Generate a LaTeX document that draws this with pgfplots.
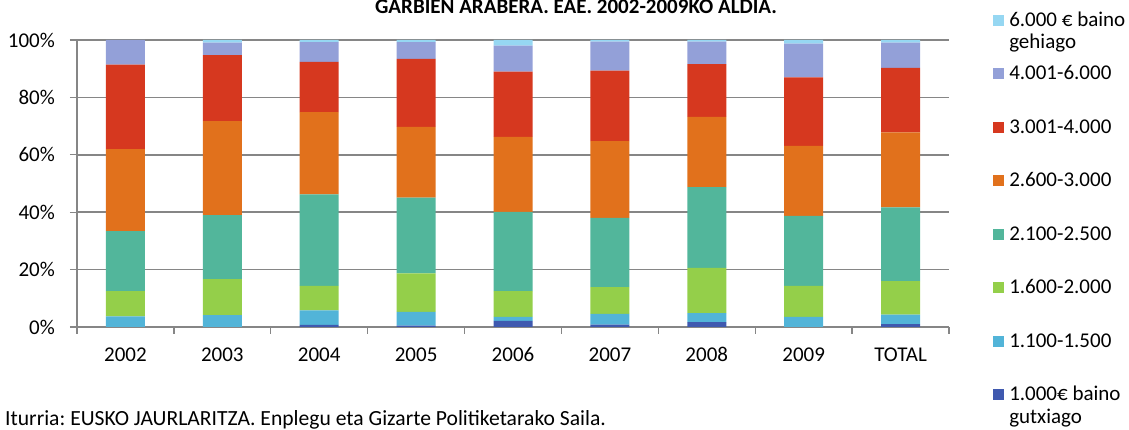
\documentclass[border=0pt]{standalone}
\usepackage{pgfplots}
\pgfplotsset{compat=1.18}
\usepackage{pgfplotstable}
\usepackage{fontspec}
\setmainfont{Carlito}
\definecolor{cA}{RGB}{63,89,175}
\definecolor{cB}{RGB}{82,180,216}
\definecolor{cC}{RGB}{148,207,74}
\definecolor{cD}{RGB}{82,182,155}
\definecolor{cE}{RGB}{225,113,28}
\definecolor{cF}{RGB}{214,56,31}
\definecolor{cG}{RGB}{147,160,216}
\definecolor{cH}{RGB}{150,215,242}
\definecolor{gridgray}{RGB}{134,134,134}
\pgfplotstableread{
x  a    b    c     d     e     f     g     h
0  0.0  3.7  8.8   20.9  28.6  29.4  8.6   0.0
1  0.0  4.1  12.6  22.3  32.7  23.0  4.4   0.9
2  0.7  5.1  8.5   31.9  28.7  17.5  6.9   0.7
3  0.5  4.8  13.4  26.4  24.6  23.7  5.9   0.7
4  2.1  1.4  9.0   27.6  26.1  22.8  9.0   2.0
5  0.8  3.8  9.3   24.1  26.8  24.5  10.1  0.6
6  1.7  3.1  15.8  28.1  24.5  18.4  7.8   0.6
7  0.0  3.5  10.8  24.4  24.4  23.9  11.7  1.3
8  1.0  3.3  11.7  25.7  26.1  22.5  8.8   0.9
}\datatable
\newcommand{\twol}[2]{\begin{tabular}[t]{@{}l@{}}#1\\[-1.5pt]#2\end{tabular}}
\frenchspacing
\begin{document}
\fontsize{21}{24}\selectfont
\begin{tikzpicture}
\path[use as bounding box] (0,0) rectangle (1129pt,430pt);
\begin{axis}[
  at={(77pt,103pt)}, anchor=south west,
  scale only axis, width=872pt, height=287pt,
  ybar stacked, bar width=39pt,
  xmin=-0.5, xmax=8.5, ymin=0, ymax=100,
  enlargelimits=false,
  axis x line*=bottom, axis y line*=left,
  axis line style={draw=gridgray, line width=1.5pt},
  xtick={0,...,8},
  xticklabels={2002,2003,2004,2005,2006,2007,2008,2009,TOTAL},
  major x tick style={draw=none},
  minor xtick={-0.5,0.5,...,8.5},
  minor x tick style={draw=gridgray, line width=1.3pt},
  minor tick length=7pt,
  ytick={0,20,...,100},
  yticklabels={0\%,20\%,40\%,60\%,80\%,100\%},
  major tick length=7pt,
  y tick style={draw=gridgray, line width=1.3pt},
  tick align=outside,
  ymajorgrids,
  major grid style={draw=gridgray, line width=1.5pt},
  xticklabel style={anchor=base, inner sep=0pt, yshift=-28pt},
  yticklabel style={anchor=east, inner sep=0pt, xshift=-15pt},
  legend style={at={(1.0505,1.101)}, anchor=north west, draw=none, fill=none,
    inner sep=0pt, row sep=8.5pt, column sep=5pt,
    nodes={inner sep=0pt, text height=15pt, text depth=30pt},
    cells={anchor=base west}},
  reverse legend,
  legend image code/.code={\fill[#1] (0pt,0.5pt) rectangle (11pt,11.5pt);},
]
\addplot[fill=cA, draw=none] table[x=x, y=a] {\datatable};
\addlegendentry{\twol{1.000€ baino}{gutxiago}}
\addplot[fill=cB, draw=none] table[x=x, y=b] {\datatable};
\addlegendentry{1.100-1.500}
\addplot[fill=cC, draw=none] table[x=x, y=c] {\datatable};
\addlegendentry{1.600-2.000}
\addplot[fill=cD, draw=none] table[x=x, y=d] {\datatable};
\addlegendentry{2.100-2.500}
\addplot[fill=cE, draw=none] table[x=x, y=e] {\datatable};
\addlegendentry{2.600-3.000}
\addplot[fill=cF, draw=none] table[x=x, y=f] {\datatable};
\addlegendentry{3.001-4.000}
\addplot[fill=cG, draw=none] table[x=x, y=g] {\datatable};
\addlegendentry{4.001-6.000}
\addplot[fill=cH, draw=none] table[x=x, y=h] {\datatable};
\addlegendentry{\twol{6.000 € baino}{gehiago}}
\end{axis}
\node[anchor=base, font=\bfseries] at (576pt,416pt) {GARBIEN ARABERA. EAE. 2002-2009KO ALDIA.};
\node[anchor=base west, inner sep=0pt, font=\fontsize{21.6}{25}\selectfont] at (5pt,4.5pt) {Iturria: EUSKO JAURLARITZA. Enplegu eta Gizarte Politiketarako Saila.};
\end{tikzpicture}
\end{document}
